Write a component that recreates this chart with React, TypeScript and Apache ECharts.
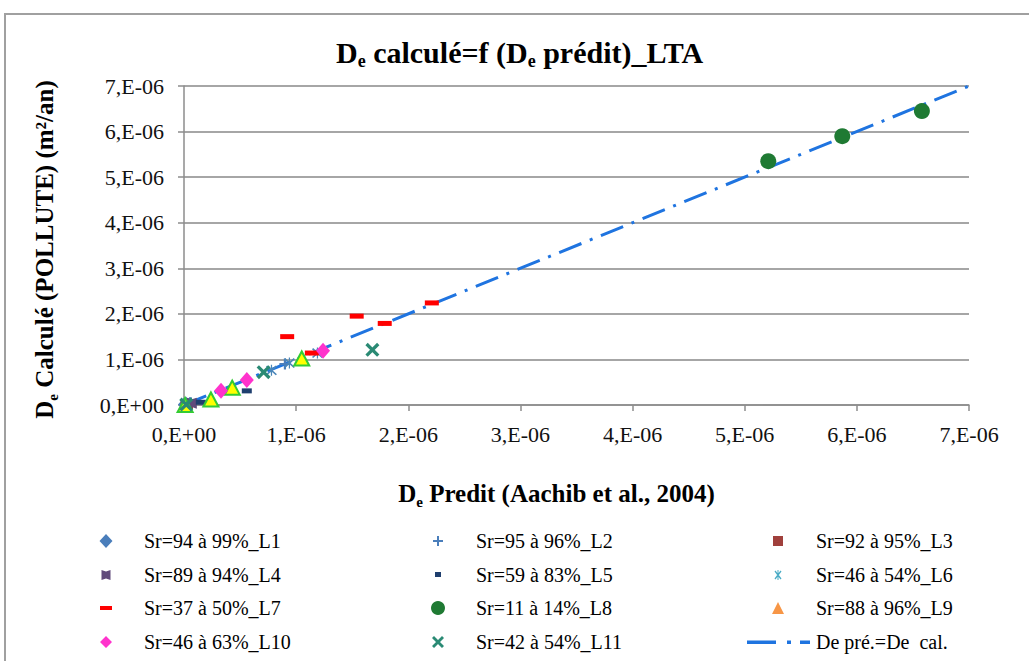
import React, { useEffect, useRef } from "react";
import * as echarts from "echarts";

// ---------- DATA (values in m²/an) ----------
const tickLabels = ["0,E+00", "1,E-06", "2,E-06", "3,E-06", "4,E-06", "5,E-06", "6,E-06", "7,E-06"];

const seriesNames = [
  "Sr=94 à 99%_L1",
  "Sr=95 à 96%_L2",
  "Sr=92 à 95%_L3",
  "Sr=89 à 94%_L4",
  "Sr=59 à 83%_L5",
  "Sr=46 à 54%_L6",
  "Sr=37 à 50%_L7",
  "Sr=11 à 14%_L8",
  "Sr=88 à 96%_L9",
  "Sr=46 à 63%_L10",
  "Sr=42 à 54%_L11",
  "De pré.=De  cal.",
];

const L1 = [[0.0e-6, 0.01e-6], [0.02e-6, 0.03e-6], [0.05e-6, 0.02e-6]];
const L2 = [[0.02e-6, 0.02e-6], [0.06e-6, 0.05e-6], [0.9e-6, 0.9e-6]];
const L3 = [[0.01e-6, 0.02e-6], [0.04e-6, 0.01e-6]];
const L4 = [[0.02e-6, 0.0e-6], [0.07e-6, 0.04e-6]];
const L5 = [[0.15e-6, 0.06e-6], [0.56e-6, 0.31e-6]];
const L6 = [[0.78e-6, 0.76e-6], [0.94e-6, 0.92e-6], [1.19e-6, 1.14e-6]];
const L7 = [[0.92e-6, 1.5e-6], [1.14e-6, 1.14e-6], [1.54e-6, 1.95e-6], [1.79e-6, 1.79e-6], [2.21e-6, 2.24e-6]];
const L8 = [[5.21e-6, 5.35e-6], [5.87e-6, 5.9e-6], [6.58e-6, 6.45e-6]];
const L9 = [[0.01e-6, 0.0e-6], [0.24e-6, 0.12e-6], [0.43e-6, 0.38e-6], [1.05e-6, 1.02e-6]];
const L10 = [[0.33e-6, 0.31e-6], [0.56e-6, 0.55e-6], [1.24e-6, 1.19e-6]];
const L11 = [[0.02e-6, 0.01e-6], [0.71e-6, 0.72e-6], [1.68e-6, 1.21e-6]];
const identityLine = [[0, 0], [7e-6, 7e-6]];

// ---------- STYLE ----------
const SERIF = "Liberation Serif";
const GRID_COLOR = "#A6A6A6";

const PLUS = "path://M4,0h2v10h-2z M0,4h10v2h-10z";
const BOWTIE = "path://M0,0 L5,1.5 L10,0 L10,10 L5,8.5 L0,10 Z";
const ASTER = "path://M4.5,0h1v10h-1z M0.5,1.5 L1.5,0.5 L9.5,8.5 L8.5,9.5 Z M8.5,0.5 L9.5,1.5 L1.5,9.5 L0.5,8.5 Z";
const XMARK = "path://M0,2 L2,0 L12,10 L10,12 Z M10,0 L12,2 L2,12 L0,10 Z";

const pad = (body: string) => `path://M0,0h0.01v0.01z ${body} M13.99,13.99h0.01v0.01z`;
const DASHDOT_ICON =
  "path://M0,0h0.01v0.01z M2,5.5h29v3.5h-29z M42,5.5h4v3.5h-4z M55,5.5h10v3.5h-10z M65.99,13.99h0.01v0.01z";

const legendIcons: any[] = [
  { icon: pad("M7,0 L13.5,7 L7,14 L0.5,7 Z"), color: "#4A7EBB" },
  { icon: pad("M6,2h2v10h-2z M2,6h10v2h-10z"), color: "#4A7EBB" },
  { icon: pad("M2,2h10v10h-10z"), color: "#A0403C" },
  { icon: pad("M2.5,2 L7,3.5 L11.5,2 L11.5,12 L7,10.5 L2.5,12 Z"), color: "#604A7B" },
  { icon: pad("M4,4h6v5h-6z"), color: "#1F3F6E" },
  { icon: pad("M6.5,2h1v10h-1z M3.5,3.5 L4.5,2.5 L10.5,10.5 L9.5,11.5 Z M9.5,2.5 L10.5,3.5 L4.5,11.5 L3.5,10.5 Z"), color: "#4BACC6" },
  { icon: pad("M1,5h12v4h-12z"), color: "#FF0000" },
  { icon: "circle", color: "#1F7A33" },
  { icon: pad("M7,1 L13,13 L1,13 Z"), color: "#F79646" },
  { icon: pad("M7,1 L13,7 L7,13 L1,7 Z"), color: "#FF33CC" },
  { icon: pad("M1,3 L3,1 L13,11 L11,13 Z M11,1 L13,3 L3,13 L1,11 Z"), color: "#2A8A74" },
  { icon: DASHDOT_ICON, color: "#1F74E0" },
];

const legendCols = [99, 431, 771];
const legendRows = [541, 575, 608, 642];

function scatter(name: string, data: number[][], symbol: string, size: any, itemStyle: any) {
  return {
    type: "scatter",
    name,
    data,
    symbol,
    symbolSize: size,
    itemStyle: { opacity: 1, ...itemStyle },
    z: 3,
    silent: true,
  };
}

export default function App() {
  const ref = useRef<HTMLDivElement>(null);

  useEffect(() => {
    if (!ref.current) return;
    const chart = echarts.init(ref.current, undefined, { renderer: "svg" });

    const legends = seriesNames.map((name, i) => {
      const col = i % 3;
      const row = Math.floor(i / 3);
      const ic = legendIcons[i];
      const isLine = i === 11;
      return {
        data: [{ name, icon: ic.icon, itemStyle: { color: ic.color, borderWidth: 0 } }],
        left: isLine ? 745 : legendCols[col],
        top: legendRows[row] - 10,
        padding: 0,
        itemWidth: 66,
        itemHeight: 14,
        selectedMode: false,
        textStyle: { color: "#000", fontSize: 20, fontFamily: SERIF },
      };
    });

    const axisCommon = {
      type: "value",
      min: 0,
      max: 7e-6,
      interval: 1e-6,
      axisLine: { show: true, lineStyle: { color: "#8C8C8C", width: 1.5 } },
      axisTick: { show: true, length: 6, lineStyle: { color: "#8C8C8C", width: 1.5 } },
    };

    const labelStyle = {
      fontFamily: SERIF,
      fontSize: 22,
      color: "#111",
      formatter: (v: number) => tickLabels[Math.round(v / 1e-6)] ?? "",
    };

    const richTitle = (size: number, sub: number) => ({
      b: { fontFamily: SERIF, fontWeight: "bold", fontSize: size, color: "#000", lineHeight: size + 6 },
      s: { fontFamily: SERIF, fontWeight: "bold", fontSize: sub, color: "#000", verticalAlign: "bottom", lineHeight: sub + 3 },
    });

    chart.setOption({
      animation: false,
      backgroundColor: "#ffffff",
      title: {
        text: "{b|D}{s|e}{b| calculé=f (D}{s|e}{b| prédit)_LTA}",
        left: 336,
        top: 34,
        padding: 0,
        textStyle: { rich: richTitle(30, 18) },
      },
      graphic: [
        {
          type: "rect",
          shape: { x: 5, y: 14, width: 1200, height: 900 },
          style: { fill: "none", stroke: "#A0A0A0", lineWidth: 2 },
          silent: true,
          z: -10,
        },
      ],
      grid: { left: 184, right: 60, top: 86, bottom: 256, containLabel: false },
      xAxis: {
        ...axisCommon,
        splitLine: { show: false },
        axisLabel: { ...labelStyle, margin: 18 },
        name: "{b|D}{s|e}{b| Predit (Aachib et al., 2004)}",
        nameLocation: "middle",
        nameGap: 73,
        nameTextStyle: { rich: richTitle(25, 15), padding: [0, 40, 0, 0] },
      },
      yAxis: {
        ...axisCommon,
        splitLine: { show: true, lineStyle: { color: GRID_COLOR, width: 2 } },
        axisLabel: { ...labelStyle, margin: 20 },
        name: "{b|D}{s|e}{b| Calculé (POLLUTE) (m²/an)}",
        nameLocation: "middle",
        nameGap: 124,
        nameTextStyle: { rich: richTitle(25, 15), padding: [0, 8, 0, 0] },
      },
      legend: legends,
      series: [
        {
          type: "line",
          name: seriesNames[11],
          data: identityLine,
          symbol: "none",
          showSymbol: false,
          lineStyle: { color: "#1F74E0", width: 3, type: [24, 9, 3, 9] },
          z: 1,
          silent: true,
        },
        scatter(seriesNames[0], L1, "diamond", [12, 14], { color: "#4A7EBB" }),
        scatter(seriesNames[1], L2, PLUS, [11, 11], { color: "#4A7EBB" }),
        scatter(seriesNames[2], L3, "rect", [9, 9], { color: "#A0403C" }),
        scatter(seriesNames[3], L4, BOWTIE, [10, 11], { color: "#604A7B" }),
        scatter(seriesNames[4], L5, "rect", [10, 5], { color: "#1F3F6E" }),
        scatter(seriesNames[5], L6, ASTER, [11, 11], { color: "#4A86B8" }),
        scatter(seriesNames[6], L7, "rect", [14, 5], { color: "#FF0000" }),
        scatter(seriesNames[7], L8, "circle", 16, { color: "#1F7A33" }),
        scatter(seriesNames[8], L9, "triangle", [15, 14], { color: "#FFFF00", borderColor: "#33CC33", borderWidth: 2 }),
        scatter(seriesNames[9], L10, "diamond", [14, 16], { color: "#FF33CC" }),
        scatter(seriesNames[10], L11, XMARK, [14, 14], { color: "#2A8A74" }),
      ],
    });

    return () => chart.dispose();
  }, []);

  return (
    <div
      ref={ref}
      style={{ position: "fixed", left: 0, top: 0, width: 1029, height: 661, background: "#fff" }}
    />
  );
}
